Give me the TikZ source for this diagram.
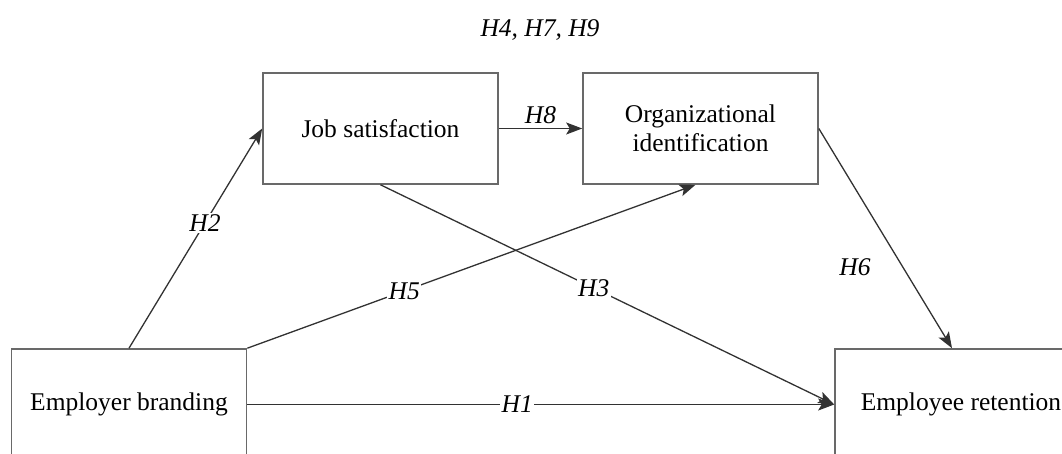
\documentclass[tikz,border=0pt]{standalone}
\usepackage{fontspec}
\setmainfont{Liberation Serif}
\usetikzlibrary{arrows.meta, positioning, calc}
\definecolor{BoxGray}{RGB}{105,105,105}
\definecolor{LineGray}{RGB}{50,50,50}

\tikzset{
  construct/.style={draw=BoxGray, line width=1.6pt, minimum width=235pt, minimum height=111pt,
    inner sep=0pt, align=center, font=\fontsize{25.5}{29.5}\selectfont},
  hyparrow/.style={draw=LineGray, line width=1.3pt, -{Stealth[length=16pt,width=12pt,inset=3.5pt]}},
  hyplabel/.style={fill=white, inner sep=1.5pt, font=\fontsize{25.5}{29.5}\selectfont\itshape}
}

\begin{document}
\begin{tikzpicture}[x=1pt,y=-1pt]
  \useasboundingbox (0,0) rectangle (1062,454);

  % Constructs
  \node[construct] (brand) at (129,404.5) {Employer branding};
  \node[construct] (satis) at (380.5,128.5) {Job satisfaction};
  \node[construct] (ident) at (700.5,128.5) {Organizational\\identification};
  \node[construct, minimum width=252pt] (retain) at (961,404.5) {Employee retention};

  % Hypotheses
  \node[hyplabel] (shared) at (540,30) {H4, H7, H9};
  \draw[hyparrow] (brand.north) -- node[hyplabel, pos=0.57] {H2} (satis.west);
  \draw[hyparrow] (brand.north east) -- node[hyplabel, pos=0.35] {H5} ([xshift=-5pt]ident.south);
  \draw[hyparrow] (satis.south) -- node[hyplabel, pos=0.47] {H3} (retain.west);
  \draw[hyparrow] (brand.east) -- node[hyplabel, pos=0.46] {H1} (retain.west);
  \draw[hyparrow] (ident.east) -- node[hyplabel, pos=0.63, left=30pt, fill=none] {H6} ([xshift=-9pt]retain.north);
  \draw[hyparrow] (satis.east) -- node[hyplabel, above=3pt, fill=none] {H8} (ident.west);
\end{tikzpicture}
\end{document}
